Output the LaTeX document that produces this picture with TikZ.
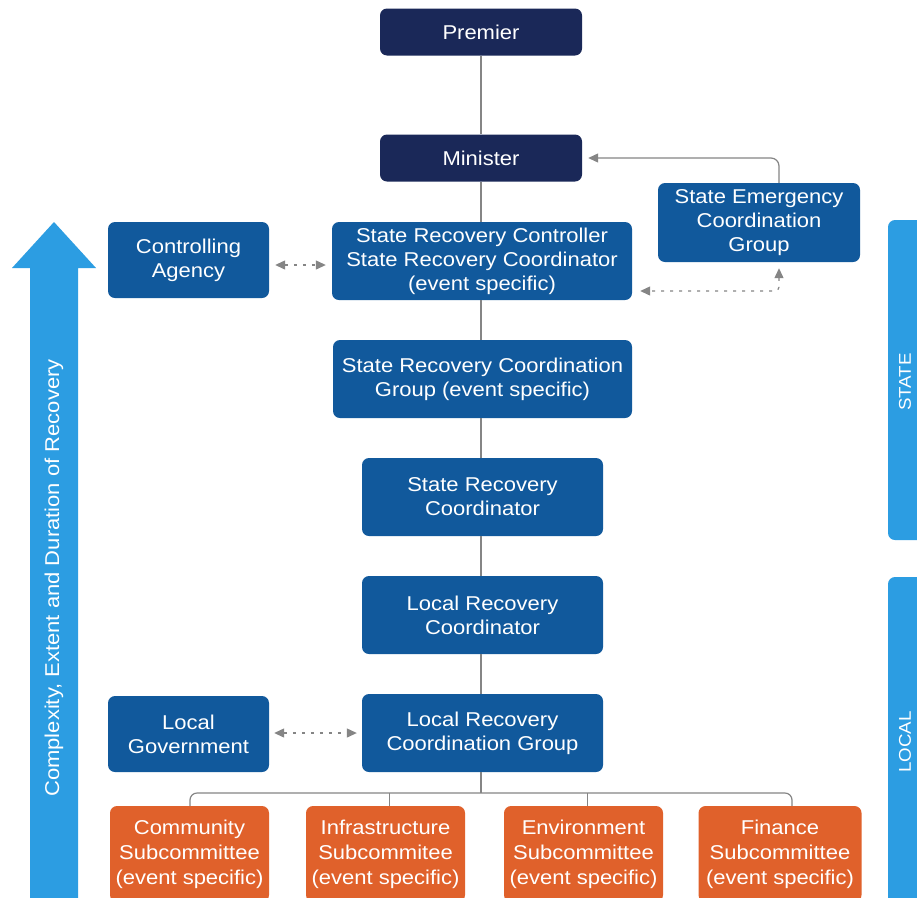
\documentclass[tikz,border=0pt]{standalone}
\usepackage{fontspec}
\setmainfont[FakeStretch=1.1]{Liberation Sans}
\usetikzlibrary{arrows.meta,calc}
\definecolor{navy}{HTML}{1A2858}
\definecolor{boxblue}{HTML}{11599C}
\definecolor{orng}{HTML}{E0612B}
\definecolor{lblue}{HTML}{2C9DE2}
\definecolor{conn}{HTML}{858585}
\begin{document}
\begin{tikzpicture}[x=1pt,y=-1pt,
  box/.style={rectangle, rounded corners=7pt, text=white, align=center, inner sep=0pt, font=\fontsize{20}{24}\selectfont},
  navybox/.style={box, fill=navy, minimum width=202pt, minimum height=47pt},
  bluebox/.style={box, fill=boxblue},
  orangebox/.style={box, fill=orng, font=\fontsize{20}{25}\selectfont, minimum width=159pt, minimum height=96pt},
  link/.style={draw=conn, line width=1.2pt},
  tip/.style={-{Triangle[length=10pt,width=9pt]}},
  dashlink/.style={draw=conn, line width=1.2pt, dash pattern=on 3pt off 6pt, {Triangle[length=10pt,width=9pt]}-{Triangle[length=10pt,width=9pt]}},
  sidetext/.style={rotate=90, text=white, inner sep=0pt},
]
\useasboundingbox (0,0) rectangle (917,897);
\clip (0,0) rectangle (917,897);
\fill[white] (0,0) rectangle (917,897);

% left arrow
\fill[lblue] (30,910) -- (30,268) -- (12,268) -- (54,222) -- (96,268) -- (78,268) -- (78,910) -- cycle;
\node[sidetext, font=\fontsize{20}{23}\selectfont] (axislabel) at (54,578) {Complexity, Extent and Duration of Recovery};

% right bars
\fill[lblue, rounded corners=7pt] (888,220) rectangle (945,540);
\fill[lblue, rounded corners=7pt] (888,577) rectangle (945,915);
\node[sidetext, font=\fontsize{17}{20}\selectfont] (statelabel) at (905,382) {STATE};
\node[sidetext, font=\fontsize{17}{20}\selectfont] (locallabel) at (905,742) {LOCAL};

% boxes
\node[navybox] (premier) at (481,32) {Premier};
\node[navybox] (minister) at (481,158) {Minister};
\node[bluebox, minimum width=202pt, minimum height=79pt] (secg) at (759,222.5) {State Emergency\\Coordination\\Group};
\node[bluebox, minimum width=161pt, minimum height=76pt] (ca) at (188.5,260) {Controlling\\Agency};
\node[bluebox, minimum width=300pt, minimum height=78pt] (src) at (482,261) {State Recovery Controller\\State Recovery Coordinator\\(event specific)};
\node[bluebox, minimum width=299pt, minimum height=78pt] (srcg) at (482.5,379) {State Recovery Coordination\\Group (event specific)};
\node[bluebox, minimum width=241pt, minimum height=78pt] (sro) at (482.5,497) {State Recovery\\Coordinator};
\node[bluebox, minimum width=241pt, minimum height=78pt] (lrc) at (482.5,615) {Local Recovery\\Coordinator};
\node[bluebox, minimum width=161pt, minimum height=76pt] (lg) at (188.5,734) {Local\\Government};
\node[bluebox, minimum width=241pt, minimum height=78pt] (lrcg) at (482.5,733) {Local Recovery\\Coordination Group};

\node[orangebox] (sub1) at (189.5,854) {Community\\Subcommittee\\(event specific)};
\node[orangebox] (sub2) at (385.5,854) {Infrastructure\\Subcommitee\\(event specific)};
\node[orangebox] (sub3) at (583.5,854) {Environment\\Subcommittee\\(event specific)};
\node[orangebox, minimum width=163pt] (sub4) at (780,854) {Finance\\Subcommittee\\(event specific)};

% vertical spine
\draw[link] (premier.south) -- (premier.south |- minister.north);
\draw[link] (minister.south) -- (minister.south |- src.north);
\draw[link] (premier.south |- src.south) -- (premier.south |- srcg.north);
\draw[link] (premier.south |- srcg.south) -- (premier.south |- sro.north);
\draw[link] (premier.south |- sro.south) -- (premier.south |- lrc.north);
\draw[link] (premier.south |- lrc.south) -- (premier.south |- lrcg.north);
\coordinate (busmid) at (481,793);
\draw[link] (premier.south |- lrcg.south) -- (busmid);

% bus to subcommittees
\coordinate (drop1) at (190,806);
\coordinate (drop4) at (792,806);
\draw[link, rounded corners=7pt] (drop1) -- (drop1 |- busmid) -- (drop4 |- busmid) -- (drop4);
\draw[link] ($(sub2.north)+(4,0)$) -- ($(sub2.north |- busmid)+(4,0)$);
\draw[link] ($(sub3.north)+(4,0)$) -- ($(sub3.north |- busmid)+(4,0)$);

% SECG to Minister
\draw[link, tip, rounded corners=8pt, shorten >=6pt] ($(secg.north)+(20,0)$) |- (minister.east);

% dashed links
\draw[dashlink, shorten <=6pt, shorten >=6pt] (ca.east |- 0,265) -- (src.west |- 0,265);
\draw[dashlink, shorten <=5pt, shorten >=5pt] (lg.east |- 0,733) -- (lrcg.west |- 0,733);
\coordinate (dashcorner) at (779,291);
\draw[dashlink, rounded corners=4pt, shorten <=6pt, shorten >=8pt] ($(secg.south)+(20,0)$) |- (src.east |- dashcorner);
\end{tikzpicture}
\end{document}
